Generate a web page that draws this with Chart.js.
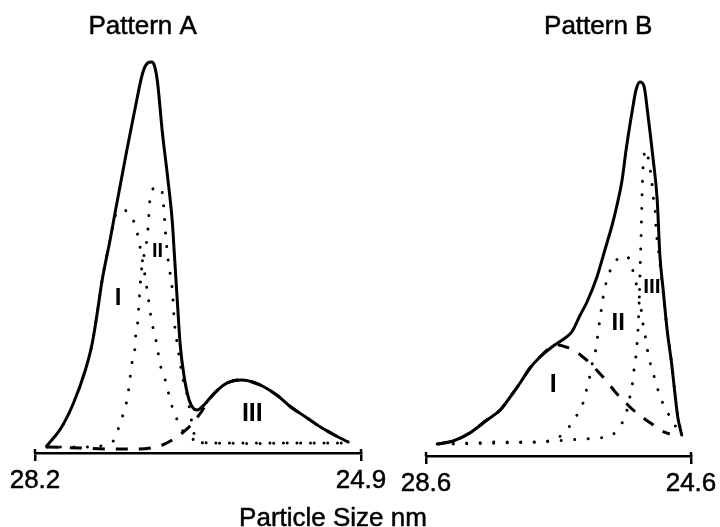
<!DOCTYPE html>
<html>
<head>
<meta charset="utf-8">
<title>Particle size distributions</title>
<script src="https://cdn.jsdelivr.net/npm/chart.js@4.4.1/dist/chart.umd.min.js"></script>
<style>
  html, body { margin: 0; padding: 0; background: #fff; }
  #wrap { position: relative; width: 720px; height: 527px; overflow: hidden;
          font-family: "Liberation Sans", Arial, sans-serif; }
  #wrap canvas { position: absolute; top: 0; }
  #cA { left: 0; width: 400px; height: 527px; }
  #cB { left: 395px; width: 325px; height: 527px; }
  #xtitle { position: absolute; left: 0; width: 666px; top: 504px; text-align: center;
            font-size: 26px; line-height: 26px; color: #000; -webkit-text-stroke: 0.5px #000; }
</style>
</head>
<body>
<div id="wrap">
  <canvas id="cA" width="400" height="527"></canvas>
  <canvas id="cB" width="325" height="527"></canvas>
  <div id="xtitle">Particle Size nm</div>
</div>
<script>
// ---- Pattern A: [particle size nm, relative intensity] ----
const patternA_total = [
  [28.08,1.75],[27.93,6.5],[27.81,12.5],[27.69,20.75],[27.62,27.5],[27.57,35],[27.52,43.25],
  [27.44,53.25],[27.39,60],[27.27,75.75],[27.19,85.75],[27.11,95],[27.06,97.5],[27.02,97.75],
  [26.99,96.75],[26.96,92.75],[26.91,80],[26.86,69.5],[26.81,57.75],[26.79,50],[26.76,38.25],
  [26.73,27],[26.69,19],[26.64,13.25],[26.60,11.25],[26.56,10.75],[26.48,12.25],[26.42,14],
  [26.29,17],[26.20,18],[26.10,18.25],[26.00,17.75],[25.88,16.5],[25.74,14.25],[25.61,11.5],
  [25.46,9],[25.31,6.5],[25.15,4.25],[25.03,2.75]
];
const patternA_I = [
  [28.08,1.75],[27.93,6.5],[27.81,12.5],[27.69,20.75],[27.62,27.5],[27.57,35],[27.52,43.25],
  [27.44,53.25],[27.38,59.75],[27.32,60.75],[27.25,60],[27.18,56.5],[27.15,53.25],[27.11,47.75],
  [27.08,43.25],[27.04,36.5],[27.02,33],[26.99,29.75],[26.96,26.25],[26.94,22.75],[26.90,19.75],
  [26.86,16.25],[26.83,13],[26.78,9.5],[26.73,6.5],[26.65,4.25],[26.56,3],[26.42,2.5],
  [25.92,2.4],[25.51,2.5],[25.03,2.5]
];
const patternA_II = [
  [28.08,1.5],[27.74,1.5],[27.54,1.75],[27.44,2.5],[27.38,4],[27.34,7.5],[27.29,11],[27.26,14.5],
  [27.24,18.25],[27.22,22.25],[27.19,25.75],[27.18,29.5],[27.16,32.75],[27.15,36.5],[27.14,40],
  [27.13,43.75],[27.11,47.75],[27.08,51.25],[27.06,55],[27.05,58.5],[27.04,62.5],[27.02,65.25],
  [26.97,66.5],[26.92,66],[26.90,62.5],[26.88,55.25],[26.85,47.75],[26.81,40.75],[26.79,33],
  [26.75,25.75],[26.70,18.25],[26.66,14.5],[26.63,10.25],[26.60,5.75],[26.56,3.25],[26.47,2.5],
  [25.81,2.5],[25.03,2.5]
];
const patternA_III = [
  [28.08,1.5],[27.74,1.25],[27.44,1],[27.18,1],[27.03,1.25],[26.91,2],[26.81,3.25],[26.71,5],
  [26.63,6.75],[26.57,8.5],[26.51,10.5],[26.46,12.5],[26.40,14.5],[26.29,17],[26.20,18],
  [26.10,18.25],[26.00,17.75],[25.88,16.5],[25.74,14.25],[25.61,11.5],[25.46,9],[25.31,6.5],
  [25.15,4.25],[25.03,2.75]
];

// ---- Pattern B: [particle size nm, relative intensity] ----
const patternB_total = [
  [28.43,3],[28.19,3.75],[27.94,5.75],[27.68,9],[27.48,11.5],[27.33,14.75],[27.18,18.25],
  [27.03,22],[26.88,24.75],[26.70,27.25],[26.50,29.5],[26.40,31],[26.28,35],[26.17,38.5],
  [26.02,44.75],[25.90,51.5],[25.79,57.75],[25.72,62.5],[25.64,69],[25.58,76.5],[25.49,86],
  [25.43,91.5],[25.37,93.5],[25.31,92.5],[25.25,85.25],[25.17,74],[25.11,64],[25.07,50.25],
  [25.02,41.5],[24.96,31.5],[24.89,22.75],[24.84,15.25],[24.80,9.75],[24.74,5.25]
];
const patternB_I = [
  [28.43,3],[28.19,3.75],[27.94,5.75],[27.68,9],[27.48,11.5],[27.33,14.75],[27.18,18.25],
  [27.03,22],[26.88,24.75],[26.73,27],[26.61,27.75],[26.49,27.25],[26.37,26.5],[26.25,25],
  [26.11,23],[25.97,20.5],[25.85,18.25],[25.73,15.75],[25.61,13.75],[25.49,11.75],[25.34,9.75],
  [25.19,8],[25.04,6.25],[24.92,5.5]
];
const patternB_II = [
  [28.19,3.25],[27.94,3.25],[27.48,3.5],[27.03,3.5],[26.68,4],[26.55,5.25],[26.43,7.5],
  [26.32,10.25],[26.23,13.25],[26.17,17],[26.12,20.5],[26.08,24],[26.03,27.25],[26.00,31.25],
  [25.97,34.75],[25.94,38.25],[25.90,42],[25.84,45.5],[25.75,48.5],[25.66,49.75],[25.57,50],
  [25.49,47],[25.43,43.25],[25.38,39.75],[25.35,36.25],[25.32,32.5],[25.28,29],[25.25,25.75],
  [25.20,22.25],[25.14,19],[25.08,15.5],[24.99,12],[24.87,8.5],[24.80,6.5]
];
const patternB_III = [
  [28.19,3],[27.48,3.25],[26.88,3.5],[26.44,4],[26.23,4.25],[26.00,4.5],[25.79,5.25],
  [25.64,8.25],[25.57,11.25],[25.52,15],[25.48,18.5],[25.457,22],[25.426,25.75],[25.396,32.75],
  [25.381,39],[25.366,47.5],[25.351,56.5],[25.336,66.5],[25.321,73],[25.275,76.5],[25.249,74.75],
  [25.219,72],[25.19,68.25],[25.17,64.75],[25.14,61],[25.13,57.25],[25.11,53.75],[25.08,50],
  [25.05,45.25],[25.02,41],[24.96,31.5],[24.89,22.75],[24.84,15.5],[24.80,10.25],[24.75,6]
];

// axis end values (nm) for each pattern
const rangeA = [24.9, 28.2];
const rangeB = [24.6, 28.6];

// component labels: [text, size nm, intensity]
const componentsA = [['I', 27.36, 39.25], ['II', 26.96, 50.75], ['III', 26.00, 10.25]];
const componentsB = [['I', 26.68, 18.25], ['II', 25.70, 33.75], ['III', 25.19, 42.75]];

const FONT = '"Liberation Sans", Arial, sans-serif';

const toXY = arr => arr.map(([x, y]) => ({ x, y }));

const solid  = { borderWidth: 3, borderDash: [], borderCapStyle: 'round' };
const dotted = { borderWidth: 3, borderDash: [0.01, 13.5], borderCapStyle: 'round' };
const dashed = { borderWidth: 3, borderDash: [12, 11], borderCapStyle: 'butt' };

function series(data, style) {
  return Object.assign({
    data: toXY(data),
    borderColor: '#000',
    fill: false,
    pointRadius: 0,
    cubicInterpolationMode: 'monotone',
    borderJoinStyle: 'round'
  }, style);
}

// Slightly heavier tick labels: stroke the text the scale has just drawn.
const heavyTicks = {
  id: 'heavyTicks',
  afterDraw(chart) {
    const x = chart.scales.x;
    const { ctx } = chart;
    ctx.save();
    ctx.font = '26px ' + FONT;
    ctx.textAlign = 'center';
    ctx.textBaseline = 'middle';
    ctx.strokeStyle = '#000';
    ctx.lineWidth = 0.5;
    for (const item of x.getLabelItems()) {
      ctx.strokeText(item.label, item.options.translation[0], item.options.translation[1] + item.textOffset);
    }
    ctx.restore();
  }
};

// Draws the component numerals, the panel heading and the upward half of the end ticks.
const panelText = {
  id: 'panelText',
  afterDraw(chart, args, opts) {
    const { ctx, scales: { x, y }, chartArea } = chart;
    ctx.save();
    ctx.fillStyle = '#000';
    ctx.strokeStyle = '#000';
    ctx.textAlign = 'center';
    ctx.textBaseline = 'alphabetic';
    for (const m of opts.marks) {
      const size = m.size;
      ctx.font = 'bold ' + size + 'px ' + FONT;
      ctx.fillText(m.text, x.getPixelForValue(m.x), y.getPixelForValue(m.y) + size * 0.358);
    }
    ctx.font = '26px ' + FONT;
    ctx.lineWidth = 0.5;
    const tx = x.getPixelForValue(opts.titleAt);
    ctx.fillText(opts.title, tx, 34);
    ctx.strokeText(opts.title, tx, 34);
    ctx.lineWidth = 2.5;
    for (const v of [x.min, x.max]) {
      const px = Math.round(x.getPixelForValue(v));
      ctx.beginPath();
      ctx.moveTo(px, chartArea.bottom - 4);
      ctx.lineTo(px, chartArea.bottom);
      ctx.stroke();
    }
    ctx.restore();
  }
};

function makePanel(id, cfg) {
  return new Chart(document.getElementById(id), {
    type: 'line',
    data: { datasets: cfg.datasets },
    options: {
      responsive: false,
      animation: false,
      events: [],
      layout: { padding: cfg.padding },
      plugins: {
        legend: { display: false },
        tooltip: { enabled: false },
        title: { display: false },
        panelText: { marks: cfg.marks, title: cfg.title, titleAt: cfg.titleAt }
      },
      scales: {
        x: {
          type: 'linear',
          reverse: true,
          min: cfg.range[0],
          max: cfg.range[1],
          afterBuildTicks: s => { s.ticks = [{ value: s.min }, { value: s.max }]; },
          afterFit: s => { s.height = cfg.axisHeight; },
          ticks: {
            callback: v => Number(v).toFixed(1),
            font: { family: FONT, size: 26 },
            color: '#000',
            padding: 4,
            autoSkip: false,
            maxRotation: 0
          },
          grid: { display: true, drawOnChartArea: false, drawTicks: true, tickLength: 8,
                  color: '#000', lineWidth: 2.5 },
          border: { display: true, color: '#000', width: 2.5 }
        },
        y: { display: false, min: 0, max: 100 }
      }
    },
    plugins: [panelText, heavyTicks]
  });
}

makePanel('cA', {
  range: rangeA,
  padding: { left: 35, right: 39, top: 53, bottom: 0 },
  axisHeight: 74,
  title: 'Pattern A',
  titleAt: 27.11,
  marks: [
    { text: componentsA[0][0], x: componentsA[0][1], y: componentsA[0][2], size: 24 },
    { text: componentsA[1][0], x: componentsA[1][1], y: componentsA[1][2], size: 20 },
    { text: componentsA[2][0], x: componentsA[2][1], y: componentsA[2][2], size: 25 }
  ],
  datasets: [
    series(patternA_total, solid),
    series(patternA_III, dashed),
    series(patternA_I, dotted),
    series(patternA_II, dotted)
  ]
});

makePanel('cB', {
  range: rangeB,
  padding: { left: 31, right: 29, top: 56, bottom: 0 },
  axisHeight: 71,
  title: 'Pattern B',
  titleAt: 26.00,
  marks: [
    { text: componentsB[0][0], x: componentsB[0][1], y: componentsB[0][2], size: 25 },
    { text: componentsB[1][0], x: componentsB[1][1], y: componentsB[1][2], size: 24 },
    { text: componentsB[2][0], x: componentsB[2][1], y: componentsB[2][2], size: 21 }
  ],
  datasets: [
    series(patternB_total, solid),
    series(patternB_I, dashed),
    series(patternB_II, dotted),
    series(patternB_III, dotted)
  ]
});
</script>
</body>
</html>
